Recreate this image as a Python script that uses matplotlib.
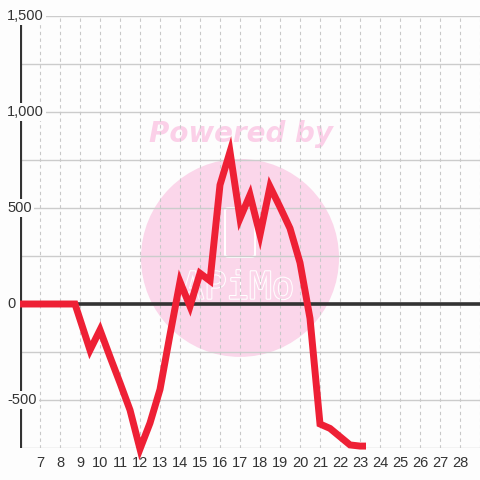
import matplotlib
matplotlib.use("Agg")
import matplotlib.pyplot as plt
from matplotlib.patches import Ellipse, FancyBboxPatch
import matplotlib.patheffects as pe

# data
x_vals = [6, 6.5, 7, 7.5, 8, 8.5, 8.75, 9.5, 10, 10.5, 11, 11.5, 12, 12.5, 13, 13.5,
          14, 14.5, 15, 15.5, 16, 16.5, 17, 17.5, 18, 18.5, 19, 19.5, 20, 20.5,
          21, 21.5, 22, 22.5, 23, 23.3]
y_vals = [0, 0, 0, 0, 0, 0, 0, -240, -135, -275, -411, -552, -755, -620, -445, -160,
          116, -12, 160, 121, 620, 793, 446, 568, 360, 611, 505, 394, 215, -75,
          -625, -648, -691, -734, -740, -740]

x_ticks = list(range(7, 29))
y_ticks = [-500, 0, 500, 1000, 1500]
y_grid = [-750, -500, -250, 0, 250, 500, 750, 1000, 1250, 1500]
x_min, x_max = 6, 29
y_min, y_max = -750, 1500

bg = "#fdfdfd"
plt.rcParams['font.family'] = ['Liberation Sans', 'DejaVu Sans']

fig = plt.figure(figsize=(4.8, 4.8), dpi=100, facecolor=bg)
ax = fig.add_axes([20/480, 32/480, 460/480, 432/480])
ax.set_facecolor(bg)
ax.set_xlim(x_min, x_max)
ax.set_ylim(y_min, y_max)

# watermark
ax.add_patch(Ellipse((17, 240), 9.9, 1031, facecolor="#fbd6ea", edgecolor="none", zorder=0))
ax.add_patch(FancyBboxPatch((16.25, 245), 1.5, 255, boxstyle="round,pad=0,rounding_size=0.2",
                            facecolor="none", edgecolor="white", lw=1.5, zorder=0.5,
                            mutation_aspect=60))
ax.text(16.9, 80, "APiMo", ha="center", va="center", fontsize=27, color="#fbd6ea",
        family="DejaVu Sans Mono", zorder=0.5,
        path_effects=[pe.withStroke(linewidth=1.5, foreground="white")])
ax.text(17.05, 885, "Powered by", ha="center", va="center", fontsize=20, color="#fbd0e8",
        family="DejaVu Sans", fontweight="bold", style="italic", zorder=0.5)

# grid
for g in y_grid:
    ax.axhline(g, color="#cccccc", lw=1, zorder=1)
for t in x_ticks + [x_max]:
    ax.axvline(t, color="#c8c8c8", lw=0.8, ls=(0, (3, 3)), zorder=1)

ax.axhline(0, color="#333333", lw=2.6, zorder=2)
for s in ax.spines.values():
    s.set_visible(False)
ax.axvline(x_min, color="#333333", lw=3, zorder=2)

ax.plot(x_vals, y_vals, color="#ee2035", lw=5, zorder=3, clip_on=False,
        solid_joinstyle="miter", solid_capstyle="butt")

ax.set_xticks(x_ticks)
ax.set_xticklabels([str(t) for t in x_ticks])
ax.tick_params(axis="x", length=0, pad=6, labelsize=10.5, labelcolor="#333333")
ax.set_yticks([])

for v in y_ticks:
    ax.text(-13/460, v, f"{v:,}", transform=ax.get_yaxis_transform(), ha="left", va="center",
            fontsize=10.5, color="#333333", zorder=4,
            bbox=dict(facecolor=bg, edgecolor="none", pad=1.5))

fig.savefig("out.png", dpi=100, facecolor=bg)
